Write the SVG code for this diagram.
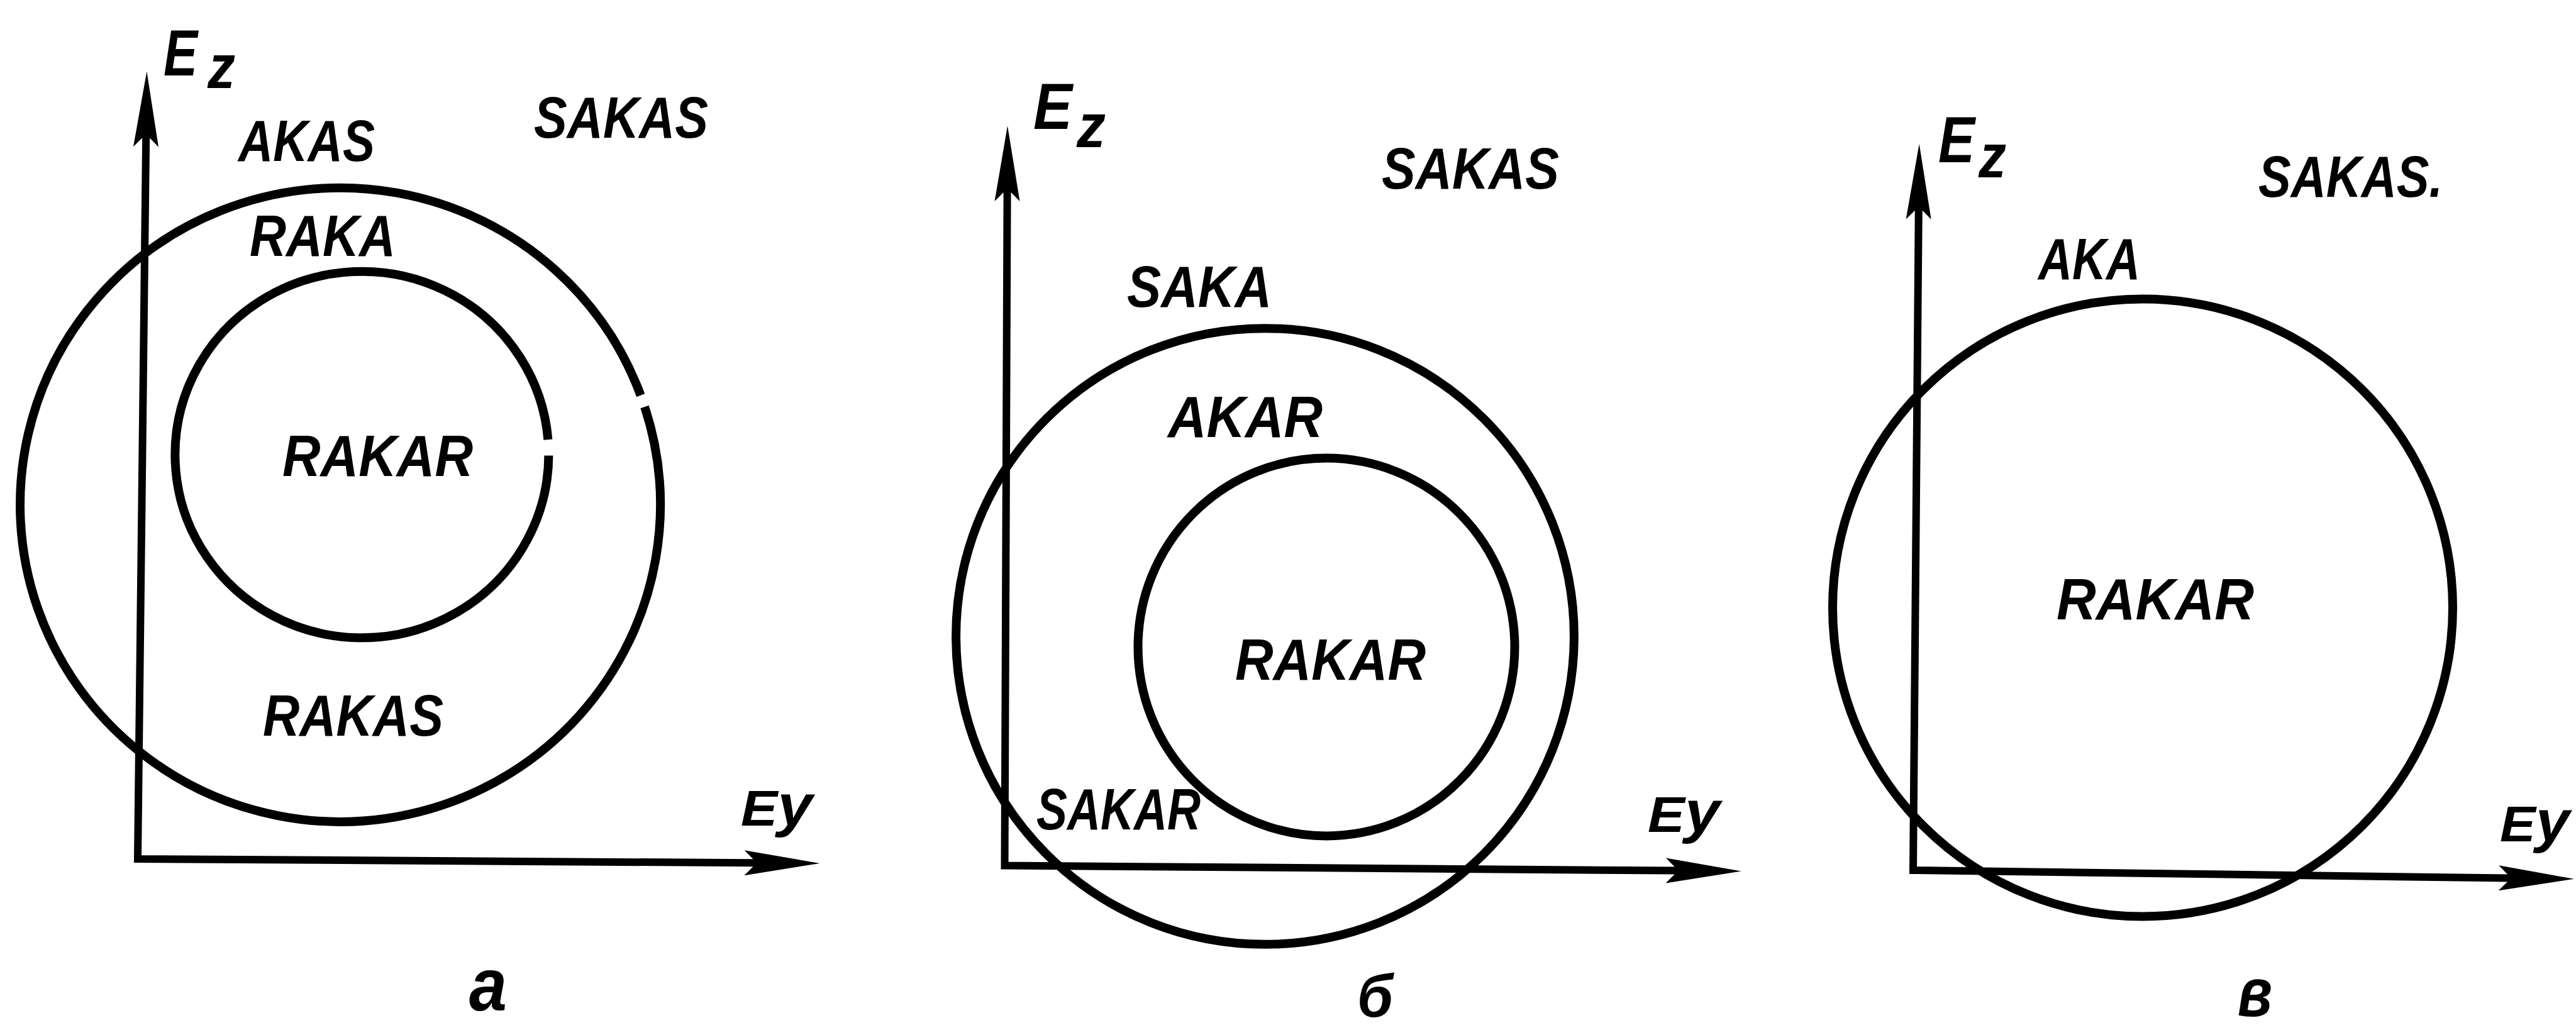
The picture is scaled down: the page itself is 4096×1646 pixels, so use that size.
<svg xmlns="http://www.w3.org/2000/svg" width="4096" height="1646" viewBox="0 0 4096 1646">
  <style>
    .ln { fill: none; stroke: #000; stroke-width: 14; stroke-linejoin: round; }
    .ax { fill: none; stroke: #000; stroke-width: 12; marker-start: url(#head); marker-end: url(#head); }
    .lb { font-family: "Liberation Sans", Arial, sans-serif; font-weight: bold; font-style: italic; font-size: 93px; fill: #000; }
    .ez { font-family: "Liberation Sans", Arial, sans-serif; font-weight: bold; font-style: italic; fill: #000; }
    .cap { font-family: "Liberation Sans", Arial, sans-serif; font-weight: bold; font-style: italic; fill: #000; }
  </style>
  <defs>
    <marker id="head" markerUnits="userSpaceOnUse" viewBox="0 -25 130 50" markerWidth="130" markerHeight="50" refX="16" refY="0" orient="auto-start-reverse">
      <path d="M120,0 L0,-20 L14,-6 L14,6 L0,20 Z" fill="#000"/>
    </marker>
  </defs>
  <rect width="4096" height="1646" fill="#fff"/>

  <g id="connectors">
    <path class="ax" d="M232.2,217.4 L219,1366 L1199.5,1372.3"/>
    <path class="ax" d="M1601.6,304 L1597.5,1376.6 L2664.7,1384.6"/>
    <path class="ax" d="M3050.8,332.7 L3042,1384 L3989,1396.5"/>
  </g>

  <g id="panel-a">
    <path id="a-outer" class="ln" d="M1025.1,647.0 A509,504 0 1 1 1018.7,628.7"/>
    <path id="a-inner" class="ln" d="M872.4,724.5 A297,291.3 0 1 1 871.4,699.1"/>
    <text class="ez" x="260" y="120" font-size="104" textLength="54" lengthAdjust="spacingAndGlyphs">E</text>
    <text class="ez" x="330" y="140" font-size="98" textLength="44" lengthAdjust="spacingAndGlyphs">z</text>
    <text class="lb" x="379" y="256" textLength="217" lengthAdjust="spacingAndGlyphs">AKAS</text>
    <text class="lb" x="849" y="219" textLength="277" lengthAdjust="spacingAndGlyphs">SAKAS</text>
    <text class="lb" x="397" y="407" textLength="232" lengthAdjust="spacingAndGlyphs">RAKA</text>
    <text class="lb" x="449" y="757" textLength="303" lengthAdjust="spacingAndGlyphs">RAKAR</text>
    <text class="lb" x="418" y="1170" textLength="287" lengthAdjust="spacingAndGlyphs">RAKAS</text>
    <text class="ez" x="1178" y="1313" font-size="80" textLength="114" lengthAdjust="spacingAndGlyphs">E<tspan font-size="92">y</tspan></text>
    <text class="cap" x="746" y="1607" font-size="118" textLength="60" lengthAdjust="spacingAndGlyphs">а</text>
  </g>

  <g id="panel-b">
    <ellipse id="b-outer" class="ln" cx="2011.5" cy="1012" rx="491.4" ry="489.8"/>
    <ellipse id="b-inner" class="ln" cx="2109" cy="1029" rx="299.5" ry="300.4"/>
    <text class="ez" x="1643" y="205" font-size="104" textLength="62" lengthAdjust="spacingAndGlyphs">E</text>
    <text class="ez" x="1712" y="234" font-size="98" textLength="46" lengthAdjust="spacingAndGlyphs">z</text>
    <text class="lb" x="2197" y="300" textLength="282" lengthAdjust="spacingAndGlyphs">SAKAS</text>
    <text class="lb" x="1792" y="488" textLength="230" lengthAdjust="spacingAndGlyphs">SAKA</text>
    <text class="lb" x="1857" y="695" textLength="246" lengthAdjust="spacingAndGlyphs">AKAR</text>
    <text class="lb" x="1964" y="1081" textLength="303" lengthAdjust="spacingAndGlyphs">RAKAR</text>
    <text class="lb" x="1648" y="1319" textLength="261" lengthAdjust="spacingAndGlyphs">SAKAR</text>
    <text class="ez" x="2620" y="1323" font-size="80" textLength="115" lengthAdjust="spacingAndGlyphs">E<tspan font-size="92">y</tspan></text>
    <text class="cap" x="2158" y="1617" font-size="97" textLength="57" lengthAdjust="spacingAndGlyphs">б</text>
  </g>

  <g id="panel-c">
    <ellipse id="c-circle" class="ln" cx="3407" cy="966.5" rx="493" ry="491"/>
    <text class="ez" x="3082" y="258" font-size="104" textLength="58" lengthAdjust="spacingAndGlyphs">E</text>
    <text class="ez" x="3146" y="282" font-size="98" textLength="44" lengthAdjust="spacingAndGlyphs">z</text>
    <text class="lb" x="3591" y="313" textLength="293" lengthAdjust="spacingAndGlyphs">SAKAS.</text>
    <text class="lb" x="3241" y="444" textLength="162" lengthAdjust="spacingAndGlyphs">AKA</text>
    <text class="lb" x="3270" y="985" textLength="314" lengthAdjust="spacingAndGlyphs">RAKAR</text>
    <text class="ez" x="3975" y="1338" font-size="80" textLength="111" lengthAdjust="spacingAndGlyphs">E<tspan font-size="92">y</tspan></text>
    <text class="cap" x="3558" y="1616" font-size="110" textLength="55" lengthAdjust="spacingAndGlyphs">в</text>
  </g>
</svg>
